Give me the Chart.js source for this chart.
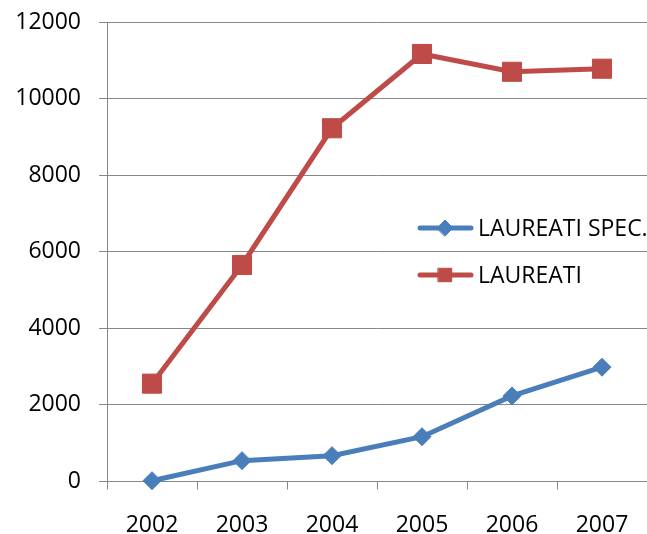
<!DOCTYPE html>
<html>
<head>
<meta charset="utf-8">
<script src="https://cdn.jsdelivr.net/npm/chart.js@4/dist/chart.umd.min.js"></script>
<style>
  html, body { margin: 0; padding: 0; background: #ffffff; }
  #wrap { width: 647px; height: 534px; }
</style>
</head>
<body>
<div id="wrap"><canvas id="chart" width="647" height="534"></canvas></div>
<script>
// Graduates per year
const years = ['2002', '2003', '2004', '2005', '2006', '2007'];
const laureatiSpec = [20, 545, 675, 1170, 2235, 2985];
const laureati = [2555, 5655, 9225, 11165, 10700, 10780];
const yTicks = [0, 2000, 4000, 6000, 8000, 10000, 12000];

const BLUE = '#4A7EBB';
const RED = '#BE4B48';
const GRID = '#878787';
const FONT = { family: "'Open Sans', 'Liberation Sans', sans-serif", size: 23 };

// Legend drawn inside the plot area, to the right
const insideLegend = {
  id: 'insideLegend',
  afterDatasetsDraw(chart) {
    const ctx = chart.ctx;
    const rows = [
      { ds: chart.data.datasets[0], y: 228, radius: 8 },
      { ds: chart.data.datasets[1], y: 275, radius: 9.5 }
    ];
    ctx.save();
    rows.forEach(r => {
      ctx.strokeStyle = r.ds.borderColor;
      ctx.lineWidth = 5;
      ctx.lineCap = 'round';
      ctx.beginPath();
      ctx.moveTo(420, r.y);
      ctx.lineTo(471, r.y);
      ctx.stroke();
      ctx.fillStyle = r.ds.pointBackgroundColor;
      ctx.lineWidth = 1;
      Chart.helpers.drawPoint(ctx, { pointStyle: r.ds.pointStyle, radius: r.radius, rotation: 0, borderWidth: 1 }, 445, r.y);
      ctx.fillStyle = '#000000';
      ctx.font = FONT.size + 'px ' + FONT.family;
      ctx.textBaseline = 'middle';
      ctx.textAlign = 'left';
      ctx.fillText(r.ds.label, 478, r.y + 1);
    });
    ctx.restore();
  }
};

function noPadding(scale) {
  scale.paddingTop = 0;
  scale.paddingBottom = 0;
  scale.paddingLeft = 0;
  scale.paddingRight = 0;
}

new Chart(document.getElementById('chart'), {
  type: 'line',
  data: {
    labels: years,
    datasets: [
      {
        label: 'LAUREATI SPEC.',
        data: laureatiSpec,
        borderColor: BLUE,
        backgroundColor: BLUE,
        pointBackgroundColor: BLUE,
        pointBorderColor: BLUE,
        borderWidth: 5,
        pointStyle: 'rectRot',
        pointRadius: 9,
        pointBorderWidth: 1,
        tension: 0,
        clip: false
      },
      {
        label: 'LAUREATI',
        data: laureati,
        borderColor: RED,
        backgroundColor: RED,
        pointBackgroundColor: RED,
        pointBorderColor: RED,
        borderWidth: 5,
        pointStyle: 'rect',
        pointRadius: 13.5,
        pointBorderWidth: 1,
        tension: 0,
        clip: false
      }
    ]
  },
  options: {
    responsive: false,
    animation: false,
    layout: { autoPadding: false, padding: { top: 22, right: 0, bottom: 0, left: 0 } },
    plugins: {
      legend: { display: false },
      tooltip: { enabled: false }
    },
    scales: {
      x: {
        offset: true,
        grid: {
          offset: true,
          drawOnChartArea: false,
          drawTicks: true,
          tickLength: 8,
          color: GRID,
          lineWidth: 1
        },
        border: { color: GRID, width: 1 },
        ticks: { font: FONT, color: '#000000', padding: 22, maxRotation: 0 },
        afterFit(scale) { scale.height = 52.5; noPadding(scale); }
      },
      y: {
        min: 0,
        max: 12000,
        afterBuildTicks(scale) { scale.ticks = yTicks.map(v => ({ value: v })); },
        grid: {
          color: GRID,
          lineWidth: 1,
          tickLength: 8,
          drawTicks: true
        },
        border: { color: GRID, width: 1 },
        ticks: { font: FONT, color: '#000000', padding: 18, callback: v => String(v) },
        afterFit(scale) { scale.width = 107; noPadding(scale); }
      }
    }
  },
  plugins: [insideLegend]
});
</script>
</body>
</html>
